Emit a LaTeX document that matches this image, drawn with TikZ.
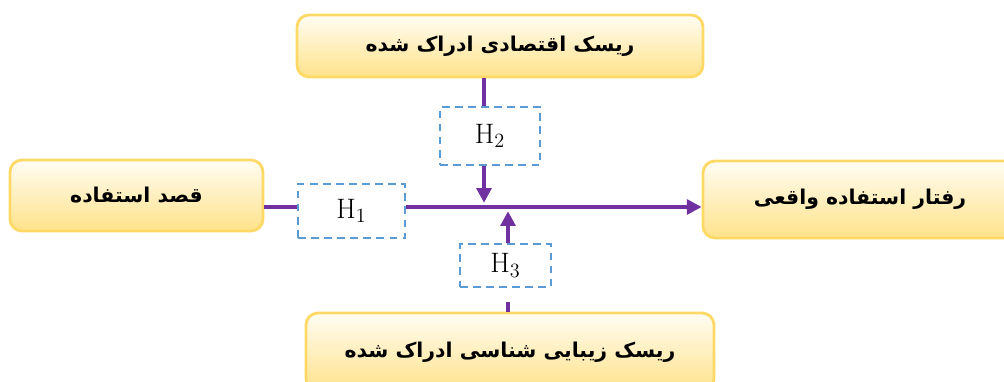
\documentclass[tikz,border=0pt]{standalone}
\usepackage{fontspec}
\newfontfamily\arabicfont[Script=Arabic]{DejaVu Sans}
\TeXXeTstate=1
\usetikzlibrary{arrows.meta}
\definecolor{boxline}{HTML}{FFD966}
\definecolor{boxtop}{HTML}{FFFDF3}
\definecolor{boxbot}{HTML}{FFE28A}
\definecolor{hline}{HTML}{5B9BD5}
\definecolor{linkc}{HTML}{7030A0}
\begin{document}
\begin{tikzpicture}[x=0.025cm,y=-0.025cm,
  bigbox/.style={draw=boxline, line width=2pt, rounded corners=8.5pt, top color=boxtop, bottom color=boxbot,
    font=\arabicfont\bfseries\fontsize{14.5}{16}\selectfont},
  hbox/.style={draw=hline, line width=1.6pt, dash pattern=on 5.5pt off 3.8pt, font=\fontsize{20}{22}\selectfont},
  link/.style={draw=linkc, line width=2.8pt},
  tip/.style={-{Triangle[width=10.5pt,length=10.5pt]}}]
\useasboundingbox (0,0) rectangle (1004,381);
\clip (0,0) rectangle (1004,381);

\node[bigbox, minimum width=406*0.025cm, minimum height=62*0.025cm] (econ) at (500,46) {\beginR ریسک اقتصادی ادراک شده\endR};
\node[bigbox, minimum width=253*0.025cm, minimum height=71*0.025cm] (qasd) at (136.5,195.5) {\beginR قصد استفاده\endR};
\node[bigbox, minimum width=314*0.025cm, minimum height=77*0.025cm] (raftar) at (860,199.5) {\beginR رفتار استفاده واقعی\endR};
\node[bigbox, minimum width=408*0.025cm, minimum height=78*0.025cm] (aes) at (510,352) {\beginR ریسک زیبایی شناسی ادراک شده\endR};

\foreach \i/\x/\y/\w/\h in {1/351.5/211/107/54, 2/490/136/100/58, 3/505.5/265.5/91/43} {
  \node[hbox, minimum width=\w*0.025cm, minimum height=\h*0.025cm] (h\i) at (\x,\y) {H$_{\i}$};}

\coordinate (m) at (0,207);
\coordinate (c2) at (484,0);
\coordinate (c3) at (508,0);

\draw[link] (qasd.east |- m) -- (h1.west |- m);
\draw[link, tip] (h1.east |- m) -- (raftar.west |- m);
\draw[link] (econ.south -| c2) -- (h2.north -| c2);
\draw[link, tip, shorten >=3pt] (h2.south -| c2) -- (c2 |- m);
\draw[link, shorten >=10pt] (aes.north -| c3) -- (h3.south -| c3);
\draw[link, tip, shorten >=3pt] (h3.north -| c3) -- (c3 |- m);

\end{tikzpicture}
\end{document}
